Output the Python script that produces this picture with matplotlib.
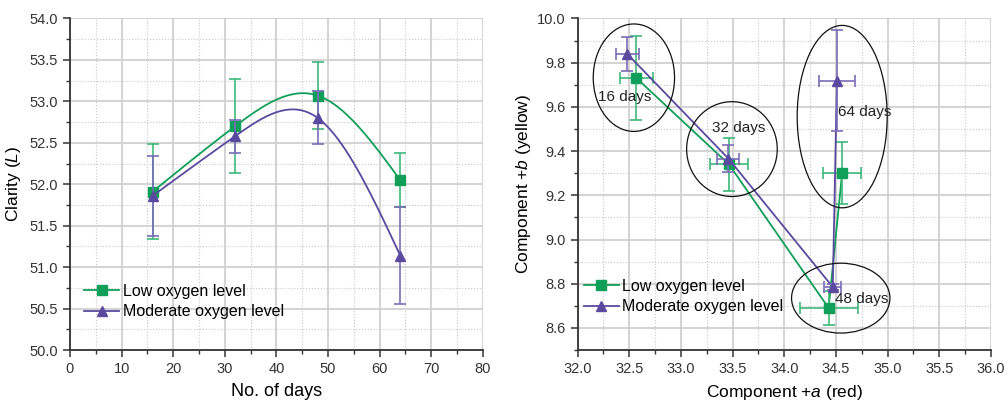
import numpy as np
import matplotlib
matplotlib.use("Agg")
import matplotlib.pyplot as plt
from matplotlib.patches import Ellipse
from matplotlib.ticker import MultipleLocator, FormatStrFormatter

plt.rcParams['font.family'] = ['Liberation Sans', 'DejaVu Sans']
plt.rcParams['mathtext.fontset'] = 'custom'
plt.rcParams['mathtext.rm'] = 'Liberation Sans'
plt.rcParams['mathtext.it'] = 'Liberation Sans:italic'

# left panel: clarity vs days
days = [16, 32, 48, 64]
low_L = [51.91, 52.70, 53.07, 52.05]
low_L_err = [0.57, 0.57, 0.40, 0.33]
mod_L = [51.86, 52.58, 52.80, 51.14]
mod_L_err = [0.48, 0.20, 0.32, 0.59]

# right panel: a vs b components
low_a = [32.57, 33.465, 34.43, 34.56]
low_a_err = [0.16, 0.18, 0.28, 0.18]
low_b = [9.73, 9.34, 8.69, 9.30]
low_b_err = [0.19, 0.12, 0.075, 0.14]
mod_a = [32.48, 33.46, 34.47, 34.51]
mod_a_err = [0.11, 0.106, 0.084, 0.174]
mod_b = [9.84, 9.366, 8.785, 9.718]
mod_b_err = [0.076, 0.06, 0.015, 0.228]

labels = ['16 days', '32 days', '48 days', '64 days']
ell_center = [(32.545, 9.732), (33.494, 9.409), (34.547, 8.735), (34.561, 9.556)]
ell_size = [(0.787, 0.486), (0.877, 0.429), (0.952, 0.316), (0.871, 0.825)]
label_pos = [(32.2, 9.646), (33.30, 9.503), (34.49, 8.73), (34.52, 9.575)]

green = '#0f9f58'
purple = '#5a4a9f'
green_err = '#3db879'
purple_err = '#7a6cb8'


def natural_spline(x, y, n=200):
    x = np.asarray(x, float)
    y = np.asarray(y, float)
    k = len(x)
    h = np.diff(x)
    A = np.zeros((k, k))
    r = np.zeros(k)
    A[0, 0] = A[-1, -1] = 1
    for i in range(1, k - 1):
        A[i, i - 1] = h[i - 1]
        A[i, i] = 2 * (h[i - 1] + h[i])
        A[i, i + 1] = h[i]
        r[i] = 6 * ((y[i + 1] - y[i]) / h[i] - (y[i] - y[i - 1]) / h[i - 1])
    m = np.linalg.solve(A, r)
    xs = np.linspace(x[0], x[-1], n)
    idx = np.clip(np.searchsorted(x, xs) - 1, 0, k - 2)
    t = xs - x[idx]
    hi = h[idx]
    b = (y[idx + 1] - y[idx]) / hi - hi * (2 * m[idx] + m[idx + 1]) / 6
    ys = y[idx] + b * t + m[idx] / 2 * t ** 2 + (m[idx + 1] - m[idx]) / (6 * hi) * t ** 3
    return xs, ys


def style_axes(ax):
    for s in ['top', 'right']:
        ax.spines[s].set_visible(False)
    for s in ['left', 'bottom']:
        ax.spines[s].set_linewidth(1.3)
        ax.spines[s].set_color('#333333')
    ax.grid(which='major', color='#d0d0d0', linewidth=1.3, linestyle='-')
    ax.grid(which='minor', color='#c8c8c8', linewidth=0.8, linestyle=':')
    ax.set_axisbelow(True)
    ax.tick_params(which='major', direction='out', length=5, width=1.1, labelsize=10.5, colors='#333333')
    ax.tick_params(which='minor', direction='out', length=3, width=1.0, colors='#333333')


fig = plt.figure(figsize=(10.08, 4.01), dpi=100)
ax1 = fig.add_axes([0.0694, 0.127, 0.4096, 0.827])
ax2 = fig.add_axes([0.573, 0.127, 0.410, 0.827])

ms_sq = 6.5
ms_tri = 7.5

# left
style_axes(ax1)
for y, e, c, ce, mk, ms, lab in [(low_L, low_L_err, green, green_err, 's', ms_sq, 'Low oxygen level'),
                                  (mod_L, mod_L_err, purple, purple_err, '^', ms_tri, 'Moderate oxygen level')]:
    xs, ys = natural_spline(days, y)
    ax1.plot(xs, ys, color=c, lw=1.3)
    ax1.errorbar(days, y, yerr=e, fmt='none', ecolor=ce, elinewidth=1.2, capsize=4, capthick=1.2)
    ax1.plot(days, y, linestyle='none', marker=mk, color=c, markersize=ms)
    ax1.plot([], [], color=c, lw=1.3, marker=mk, markersize=ms, label=lab)
ax1.set_xlim(0, 80)
ax1.set_ylim(50, 54)
ax1.xaxis.set_major_locator(MultipleLocator(10))
ax1.xaxis.set_minor_locator(MultipleLocator(5))
ax1.yaxis.set_major_locator(MultipleLocator(0.5))
ax1.yaxis.set_minor_locator(MultipleLocator(0.25))
ax1.yaxis.set_major_formatter(FormatStrFormatter('%.1f'))
ax1.set_xlabel('No. of days', fontsize=13, labelpad=5)
ax1.set_ylabel('Clarity ($\\mathit{L}$)', fontsize=12.5, labelpad=5)
ax1.legend(loc='lower left', bbox_to_anchor=(0.0, 0.05), frameon=False, fontsize=11.5,
           handlelength=2.2, handletextpad=0.2, labelspacing=0.35)

# right
style_axes(ax2)
for a, ae, b, be, c, ce, mk, ms, lab in [(low_a, low_a_err, low_b, low_b_err, green, green_err, 's', ms_sq, 'Low oxygen level'),
                                          (mod_a, mod_a_err, mod_b, mod_b_err, purple, purple_err, '^', ms_tri, 'Moderate oxygen level')]:
    ax2.plot(a, b, color=c, lw=1.3)
    ax2.errorbar(a, b, xerr=ae, yerr=be, fmt='none', ecolor=ce, elinewidth=1.2, capsize=4, capthick=1.2)
    ax2.plot(a, b, linestyle='none', marker=mk, color=c, markersize=ms)
    ax2.plot([], [], color=c, lw=1.3, marker=mk, markersize=ms, label=lab)
for (cx, cy), (w, h), (tx, ty), lab in zip(ell_center, ell_size, label_pos, labels):
    ax2.add_patch(Ellipse((cx, cy), w, h, fill=False, edgecolor='#111111', lw=0.9, zorder=5))
    ax2.text(tx, ty, lab, fontsize=11, va='center', ha='left', color='#222222', zorder=6)
ax2.set_xlim(32, 36)
ax2.set_ylim(8.5, 10.0)
ax2.xaxis.set_major_locator(MultipleLocator(0.5))
ax2.xaxis.set_minor_locator(MultipleLocator(0.25))
ax2.xaxis.set_major_formatter(FormatStrFormatter('%.1f'))
ax2.set_yticks(np.arange(8.6, 10.01, 0.2))
ax2.yaxis.set_minor_locator(MultipleLocator(0.1))
ax2.yaxis.set_major_formatter(FormatStrFormatter('%.1f'))
ax2.set_xlabel('Component +$\\mathit{a}$ (red)', fontsize=12.5, labelpad=5)
ax2.set_ylabel('Component +$\\mathit{b}$ (yellow)', fontsize=12.5, labelpad=3)
ax2.legend(loc='lower left', bbox_to_anchor=(-0.02, 0.065), frameon=False, fontsize=11.5,
           handlelength=2.2, handletextpad=0.2, labelspacing=0.35)

fig.savefig('out.png', dpi=100)
